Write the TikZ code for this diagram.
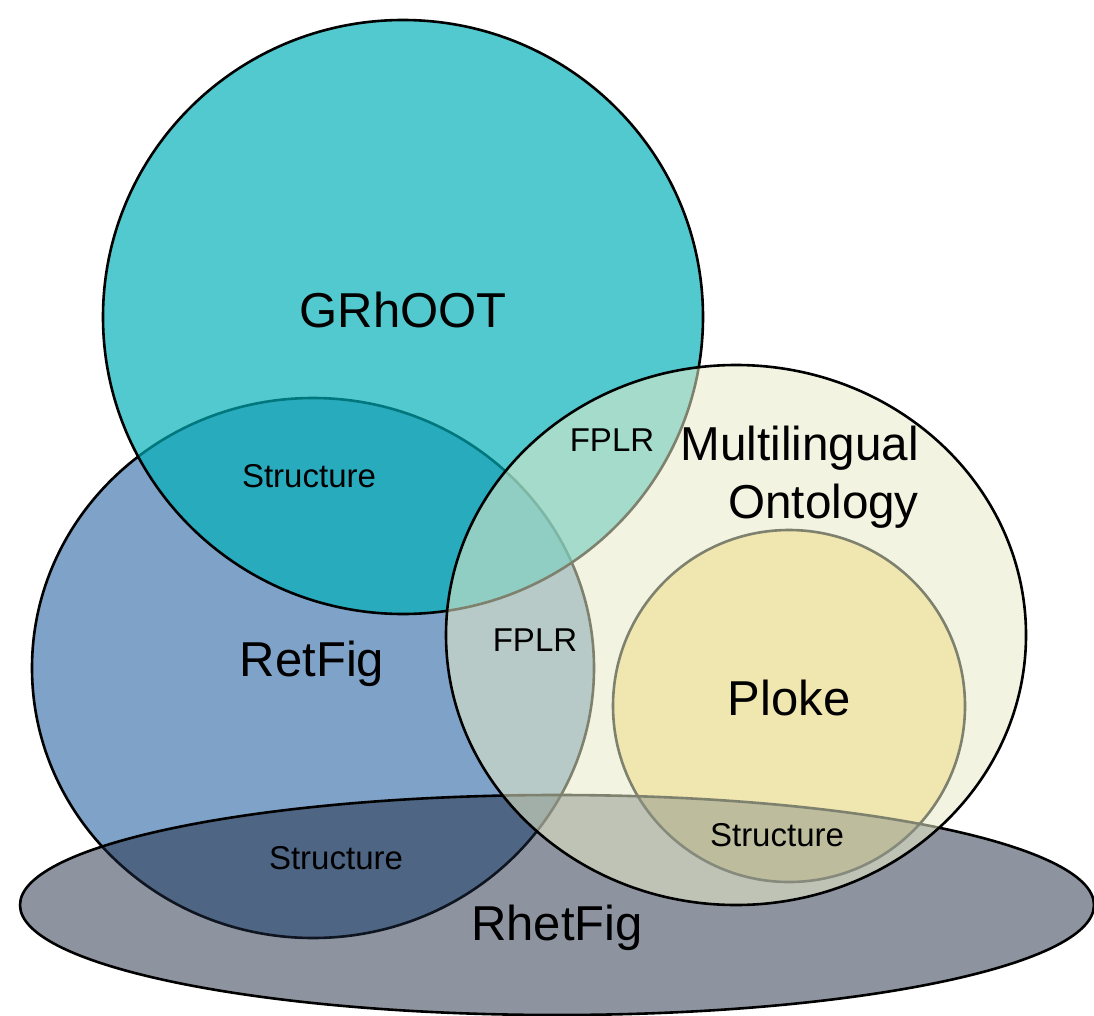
\documentclass[tikz,border=0pt]{standalone}
\usepackage{fontspec}
\setmainfont{Liberation Sans}
\definecolor{retfigfill}{RGB}{127,162,200}
\definecolor{grhootfill}{RGB}{0,176,184}
\definecolor{plokefill}{RGB}{251,224,147}
\definecolor{rhetfigfill}{RGB}{30,42,64}
\definecolor{ontofill}{RGB}{231,235,200}
\begin{document}
\begin{tikzpicture}[x=1pt,y=-1pt,
  setline/.style={draw=black, line width=2.6pt},
  biglabel/.style={font=\fontsize{49}{58}\selectfont, anchor=base, inner sep=0pt},
  ontolabel/.style={font=\fontsize{47.6}{58}\selectfont, anchor=base east, inner sep=0pt},
  smalllabel/.style={font=\fontsize{33}{38}\selectfont, anchor=base, inner sep=0pt}]
\useasboundingbox (0,0) rectangle (1094,1016);

% sets, drawn from back to front
\path[setline, fill=retfigfill] (313,668) ellipse [x radius=281pt, y radius=270pt];
\path[setline, fill=grhootfill, fill opacity=0.68] (403,317) ellipse [x radius=300pt, y radius=297pt];
\path[setline, fill=plokefill] (789,706) circle [radius=176pt];
\path[setline, fill=rhetfigfill, fill opacity=0.5] (557,905) ellipse [x radius=537pt, y radius=110pt];
\path[setline, fill=ontofill, fill opacity=0.55] (736,635) ellipse [x radius=290pt, y radius=270pt];

% set names
\node[biglabel] (grhoot) at (403,327) {GRhOOT};
\node[biglabel] (retfig) at (312,676) {RetFig};
\node[biglabel] (rhetfig) at (557,940) {RhetFig};
\node[biglabel] (ploke) at (789,715) {Ploke};
\node[ontolabel] (multi) at (919,460) {Multilingual};
\node[ontolabel] (onto) at (919,518) {Ontology};

% overlap labels
\node[smalllabel] (structA) at (309,487) {Structure};
\node[smalllabel] (structB) at (336,869) {Structure};
\node[smalllabel] (structC) at (777,846) {Structure};
\node[smalllabel] (fplrA) at (612,451) {FPLR};
\node[smalllabel] (fplrB) at (535,651) {FPLR};
\end{tikzpicture}
\end{document}
